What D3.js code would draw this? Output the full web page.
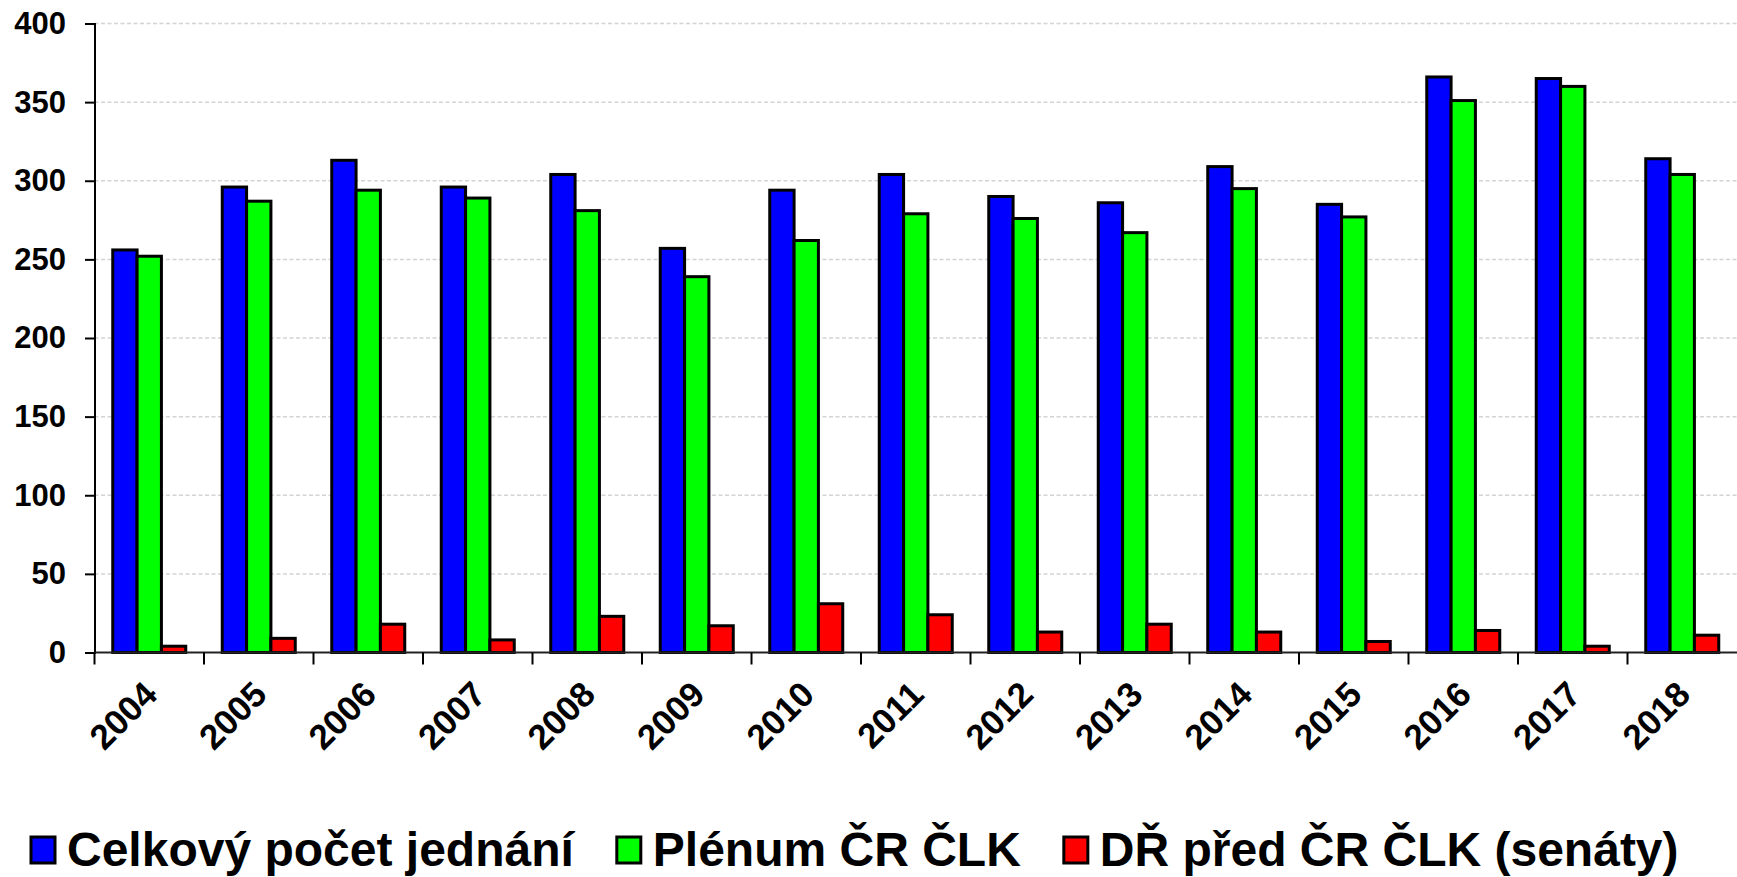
<!DOCTYPE html>
<html>
<head>
<meta charset="utf-8">
<script src="https://cdnjs.cloudflare.com/ajax/libs/d3/7.8.5/d3.min.js"></script>
<style>
body { margin: 0; background: #fff; }
text { font-family: "Liberation Sans", Arial, sans-serif; font-weight: bold; fill: #000; }
.grid line { stroke: #d4d4d4; stroke-width: 1.5; stroke-dasharray: 4,2.5; }
.bar { stroke: #000; stroke-width: 3; }
</style>
</head>
<body>
<script>
var years = ["2004","2005","2006","2007","2008","2009","2010","2011","2012","2013","2014","2015","2016","2017","2018"];
var celkovy = [256,296,313,296,304,257,294,304,290,286,309,285,366,365,314];
var plenum  = [252,287,294,289,281,239,262,279,276,267,295,277,351,360,304];
var senaty  = [4,9,18,8,23,17,31,24,13,18,13,7,14,4,11];
var seriesNames = ["Celkový počet jednání", "Plénum ČR ČLK", "DŘ před ČR ČLK (senáty)"];
var seriesColors = ["#0000ff", "#00ff00", "#ff0000"];
var yTicks = [0,50,100,150,200,250,300,350,400];

var width = 1737, height = 877;
var plotLeft = 94.5, plotRight = 1737, plotTop = 23.5, plotBottom = 652.5;

var svg = d3.select("body").append("svg")
	.attr("width", width)
	.attr("height", height);

var x0 = d3.scaleBand().domain(years).range([plotLeft, plotRight]);
var x1 = d3.scaleBand().domain([0,1,2]).range([0, x0.bandwidth()]).paddingOuter(0.75);
var y = d3.scaleLinear().domain([0,400]).range([plotBottom, plotTop]);

// gridlines
svg.append("g").attr("class", "grid")
	.selectAll("line")
	.data(yTicks.filter(function(d){return d>0;}))
	.enter().append("line")
	.attr("x1", plotLeft).attr("x2", plotRight)
	.attr("y1", function(d){return y(d);})
	.attr("y2", function(d){return y(d);});

var rows = years.map(function(yr, i){
	return {year: yr, values: [celkovy[i], plenum[i], senaty[i]]};
});

var groups = svg.append("g").selectAll("g")
	.data(rows)
	.enter().append("g")
	.attr("transform", function(d){return "translate(" + x0(d.year) + ",0)";});

groups.selectAll("rect")
	.data(function(d){return d.values.map(function(v, k){return {k:k, v:v};});})
	.enter().append("rect")
	.attr("class", "bar")
	.attr("x", function(d){return x1(d.k);})
	.attr("width", x1.bandwidth())
	.attr("y", function(d){return y(d.v);})
	.attr("height", function(d){return y(0) - y(d.v);})
	.attr("fill", function(d){return seriesColors[d.k];});

// y axis
var yAxis = svg.append("g")
	.attr("transform", "translate(" + plotLeft + ",0)")
	.call(d3.axisLeft(y).tickValues(yTicks).tickSize(9.5).tickPadding(19));
yAxis.select(".domain").attr("stroke", "#000").attr("stroke-width", 2);
yAxis.selectAll(".tick line").attr("stroke", "#000").attr("stroke-width", 2);
yAxis.selectAll(".tick text").style("font-size", "31px").attr("fill", "#000");

// x axis
var xAxis = svg.append("g").attr("transform", "translate(0," + plotBottom + ")");
xAxis.append("line")
	.attr("x1", plotLeft).attr("x2", plotRight)
	.attr("stroke", "#222").attr("stroke-width", 2);
xAxis.selectAll(".xtick")
	.data(years)
	.enter().append("line")
	.attr("class", "xtick")
	.attr("x1", function(d){return x0(d);}).attr("x2", function(d){return x0(d);})
	.attr("y1", 0).attr("y2", 12)
	.attr("stroke", "#000").attr("stroke-width", 2);
xAxis.selectAll(".xlabel")
	.data(years)
	.enter().append("text")
	.attr("class", "xlabel")
	.attr("text-anchor", "end")
	.style("font-size", "35px")
	.attr("transform", function(d){
		return "translate(" + (x0(d) + x0.bandwidth()/2 + 10) + ",44) rotate(-45)";
	})
	.text(function(d){return d;});

// legend
var legend = svg.append("g").attr("transform", "translate(31,850)");
var lx = 0;
seriesNames.forEach(function(name, k){
	var item = legend.append("g").attr("transform", "translate(" + lx + ",0)");
	item.append("rect")
		.attr("x", 0).attr("y", -13)
		.attr("width", 24).attr("height", 26)
		.attr("fill", seriesColors[k])
		.attr("stroke", "#000").attr("stroke-width", 3);
	var t = item.append("text")
		.attr("x", 36).attr("y", 16)
		.style("font-size", "48px")
		.text(name);
	lx += 36 + t.node().getComputedTextLength() + 43;
});
</script>
</body>
</html>
